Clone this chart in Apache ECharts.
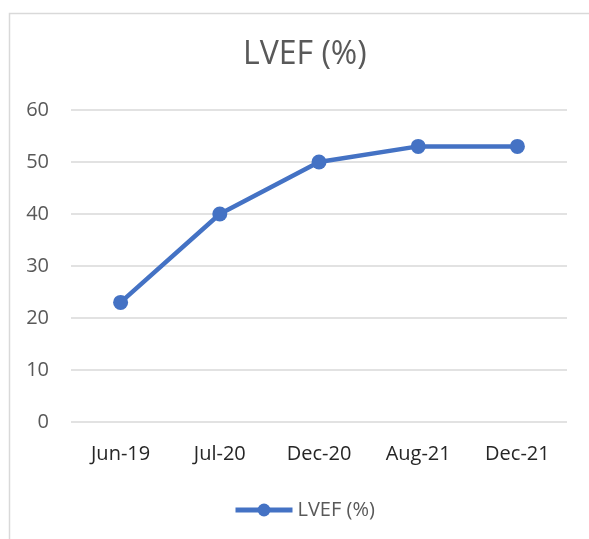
<!DOCTYPE html>
<html>
<head>
<meta charset="utf-8">
<script src="https://cdn.jsdelivr.net/npm/echarts@6/dist/echarts.min.js"></script>
<style>
html,body{margin:0;padding:0;background:#fff;}
#c{width:589px;height:539px;}
</style>
</head>
<body>
<div id="c"></div>
<script>
var categories = ['Jun-19', 'Jul-20', 'Dec-20', 'Aug-21', 'Dec-21'];
var lvefValues = [23, 40, 50, 53, 53];
var seriesName = 'LVEF (%)';
var yMin = 0, yMax = 60, yStep = 10;

var chart = echarts.init(document.getElementById('c'), null, {renderer: 'canvas'});
var font = '"Open Sans", sans-serif';
chart.setOption({
  backgroundColor: '#ffffff',
  animation: false,
  graphic: [{
    type: 'rect', left: 7, top: 11, silent: true,
    shape: {width: 620, height: 600},
    style: {fill: 'none', stroke: '#d9d9d9', lineWidth: 1.5}
  }],
  title: {
    text: 'LVEF (%)', left: 238, top: 34,
    textStyle: {fontFamily: font, fontSize: 32, fontWeight: 'normal', color: '#595959'}
  },
  legend: {
    data: [{name: seriesName}], left: 228, top: 495,
    itemWidth: 57, itemHeight: 16, itemGap: 4,
    lineStyle: {width: 5},
    textStyle: {fontFamily: font, fontSize: 20, color: '#595959'}
  },
  grid: {left: 71, right: 22, top: 110, bottom: 117, containLabel: false},
  xAxis: {
    type: 'category', data: categories, boundaryGap: true,
    axisLine: {show: false}, axisTick: {show: false},
    axisLabel: {fontFamily: font, fontSize: 20, color: '#262626', margin: 22}
  },
  yAxis: {
    type: 'value', min: yMin, max: yMax, interval: yStep,
    axisLine: {show: false}, axisTick: {show: false},
    splitLine: {lineStyle: {color: '#d9d9d9', width: 1.5}},
    axisLabel: {fontFamily: font, fontSize: 20, color: '#595959', margin: 22}
  },
  series: [{
    name: seriesName, type: 'line', data: lvefValues,
    symbol: 'circle', symbolSize: 15,
    lineStyle: {color: '#4472C4', width: 4.5},
    itemStyle: {color: '#4472C4'}
  }]
});
</script>
</body>
</html>
